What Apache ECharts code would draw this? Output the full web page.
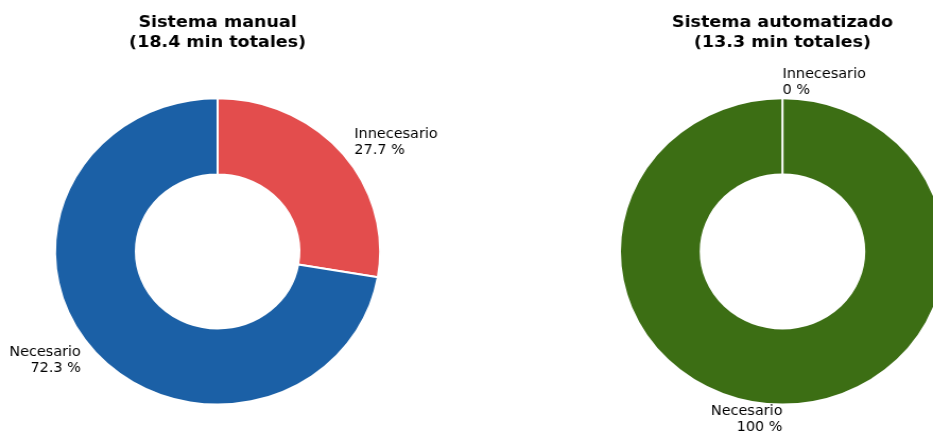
<!DOCTYPE html>
<html>
<head>
<meta charset="utf-8">
<script src="https://cdn.jsdelivr.net/npm/echarts@6/dist/echarts.min.js"></script>
<style>
  html, body { margin: 0; padding: 0; background: #fff; overflow: hidden; }
  #wrap { width: 933px; height: 435px; overflow: hidden; }
  /* the drawing is laid out on a narrower canvas and widened to the page */
  #chart { width: 879px; height: 435px; transform: scaleX(1.06143); transform-origin: 0 0; }
</style>
</head>
<body>
<div id="wrap"><div id="chart"></div></div>
<script>
// Share of time per category, in percent
const categories = ['Innecesario', 'Necesario'];
const manualShare = [27.7, 72.3];
const autoShare = [0, 100];
const titles = ['Sistema manual\n(18.4 min totales)', 'Sistema automatizado\n(13.3 min totales)'];
const colorsManual = ['#e34d4d', '#1b60a6'];
const colorsAuto = ['#3c6e14', '#3c6e14'];

// layout of the two rings (canvas pixels)
const centers = [[205, 251.4], [737.2, 251.4]];
const outerR = 153.2;
const innerR = 77;
const labelDist = 1.1;
const startAngle = 90;

const seriesValues = [manualShare, autoShare];
const seriesColors = [colorsManual, colorsAuto];

const chart = echarts.init(document.getElementById('chart'), null, { renderer: 'canvas' });

function labelPos(seriesIndex, dataIndex) {
  const vals = seriesValues[seriesIndex];
  const total = vals.reduce((a, b) => a + b, 0);
  let cum = 0;
  for (let i = 0; i < dataIndex; i++) cum += vals[i];
  const mid = (startAngle - 360 * (cum + vals[dataIndex] / 2) / total) * Math.PI / 180;
  const c = Math.cos(mid), s = Math.sin(mid);
  const [cx, cy] = centers[seriesIndex];
  let align;
  if (c > 1e-6) align = 'left';
  else if (c < -1e-6) align = 'right';
  else align = s > 0 ? 'left' : 'right';
  return {
    x: cx + labelDist * outerR * c,
    y: cy - labelDist * outerR * s,
    align: align,
    verticalAlign: 'middle'
  };
}

const series = seriesValues.map((vals, si) => ({
  type: 'pie',
  center: centers[si],
  radius: [innerR, outerR],
  startAngle: startAngle,
  clockwise: true,
  avoidLabelOverlap: false,
  animation: false,
  silent: true,
  data: categories.map((name, i) => ({
    name: name,
    value: vals[i],
    itemStyle: { color: seriesColors[si][i] }
  })),
  itemStyle: { borderColor: '#ffffff', borderWidth: 2 },
  label: {
    show: true,
    position: 'outside',
    formatter: p => p.name + '\n' + p.value + ' %',
    fontFamily: 'DejaVu Sans',
    fontSize: 13.6,
    lineHeight: 16,
    color: '#000'
  },
  labelLine: { show: false },
  labelLayout: p => labelPos(p.seriesIndex, p.dataIndex),
  emphasis: { disabled: true }
}));

// white wedge edge where each ring starts (a full ring has no radial edge of its own)
const a0 = startAngle * Math.PI / 180;
const startEdges = centers.map(([cx, cy]) => ({
  type: 'line',
  silent: true,
  z: 10,
  shape: {
    x1: cx + innerR * Math.cos(a0), y1: cy - innerR * Math.sin(a0),
    x2: cx + outerR * Math.cos(a0), y2: cy - outerR * Math.sin(a0)
  },
  style: { stroke: '#ffffff', lineWidth: 2 }
}));

chart.setOption({
  animation: false,
  title: titles.map((t, i) => ({
    text: t,
    left: centers[i][0],
    top: 13,
    textAlign: 'center',
    padding: 0,
    textStyle: {
      fontFamily: 'DejaVu Sans',
      fontWeight: 'bold',
      fontSize: 16.5,
      lineHeight: 20,
      color: '#000'
    }
  })),
  graphic: startEdges,
  series: series
});
</script>
</body>
</html>
